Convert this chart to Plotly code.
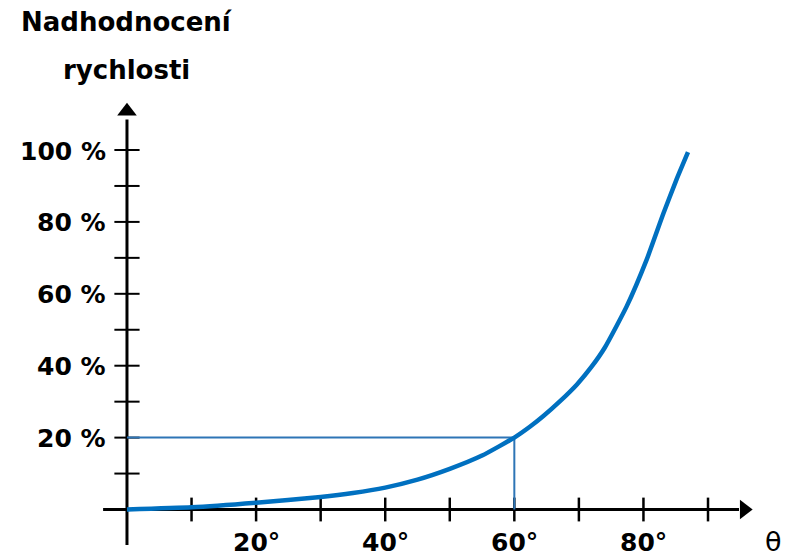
import plotly.graph_objects as go

# data
theta = [0, 10, 20, 30, 35, 40, 45, 50, 55, 60, 62.4, 64.5, 67, 69.7, 72, 74, 77.4, 80.5, 83.1, 85.1, 86.9]
overestimate = [0, 0.6, 1.9, 3.5, 4.6, 6.1, 8.3, 11.3, 15, 20, 23, 26, 30, 34.8, 39.8, 45, 56.5, 69.5, 82.4, 91.7, 99.4]
x_ticks = [10, 20, 30, 40, 50, 60, 70, 80, 90]
x_tick_labels = {20: "20°", 40: "40°", 60: "60°", 80: "80°"}
y_ticks = [10, 20, 30, 40, 50, 60, 70, 80, 90, 100]
y_tick_labels = {20: "20 %", 40: "40 %", 60: "60 %", 80: "80 %", 100: "100 %"}
marked_theta = 60
marked_value = 20
title_lines = ["Nadhodnocení", "rychlosti"]
x_name = "θ"

# the page body has an 8px margin, so the figure is 8px smaller than the window
W, H = 782, 549
x_range = [-18.43, 102.70]
y_range = [-13.21, 139.50]

FONT = "DejaVu Sans"
BLUE = "#0070C0"
GUIDE = "#2E75B6"

fig = go.Figure()

# axis lines
fig.add_trace(go.Scatter(x=[-3.7, 94.8], y=[0, 0], mode="lines",
                         line=dict(color="black", width=3), hoverinfo="skip"))
fig.add_trace(go.Scatter(x=[0, 0], y=[-9.9, 108.5], mode="lines",
                         line=dict(color="black", width=3), hoverinfo="skip"))
# arrow heads
fig.add_trace(go.Scatter(x=[95.6], y=[0], mode="markers",
                         marker=dict(symbol="triangle-right", size=17, color="black",
                                     line=dict(width=0)),
                         hoverinfo="skip"))
fig.add_trace(go.Scatter(x=[0], y=[110.8], mode="markers",
                         marker=dict(symbol="triangle-up", size=17, color="black",
                                     line=dict(width=0)),
                         hoverinfo="skip"))
# ticks
fig.add_trace(go.Scatter(x=x_ticks, y=[0] * len(x_ticks), mode="markers",
                         marker=dict(symbol="line-ns", size=17,
                                     line=dict(color="black", width=2.5)),
                         hoverinfo="skip"))
fig.add_trace(go.Scatter(x=[0] * len(y_ticks), y=y_ticks, mode="markers",
                         marker=dict(symbol="line-ew", size=18,
                                     line=dict(color="black", width=2)),
                         hoverinfo="skip"))

# guide lines
fig.add_trace(go.Scatter(x=[0, marked_theta, marked_theta], y=[marked_value, marked_value, 0],
                         mode="lines", line=dict(color=GUIDE, width=2), hoverinfo="skip"))

# curve
fig.add_trace(go.Scatter(x=theta, y=overestimate, mode="lines",
                         line=dict(color=BLUE, width=4.5, shape="spline", smoothing=0.5),
                         hoverinfo="skip"))

annotations = []
for v, t in x_tick_labels.items():
    annotations.append(dict(x=v, y=0, xref="x", yref="y", text="<b>%s</b>" % t,
                            showarrow=False, yshift=-33,
                            font=dict(family=FONT, size=25, color="black")))
annotations.append(dict(x=0, y=0, xref="x", yref="y", text=x_name,
                        showarrow=False, xshift=647, yshift=-32,
                        font=dict(family=FONT, size=27, color="black")))
for v, t in y_tick_labels.items():
    annotations.append(dict(x=0, y=v, xref="x", yref="y", text="<b>%s</b>" % t,
                            showarrow=False, xanchor="right", xshift=-19, yshift=-1,
                            font=dict(family=FONT, size=25, color="black")))
annotations.append(dict(x=0, y=1, xref="x", yref="paper", text="<b>%s</b>" % title_lines[0],
                        showarrow=False, yanchor="middle", yshift=-14,
                        font=dict(family=FONT, size=26, color="black")))
annotations.append(dict(x=0, y=1, xref="x", yref="paper", text="<b>%s</b>" % title_lines[1],
                        showarrow=False, yanchor="middle", yshift=-62,
                        font=dict(family=FONT, size=26, color="black")))

fig.update_layout(
    width=W, height=H,
    margin=dict(l=0, r=0, t=0, b=0),
    paper_bgcolor="white", plot_bgcolor="white",
    showlegend=False,
    xaxis=dict(range=x_range, visible=False, fixedrange=True),
    yaxis=dict(range=y_range, visible=False, fixedrange=True),
    annotations=annotations,
)

fig.write_html("out.html")
